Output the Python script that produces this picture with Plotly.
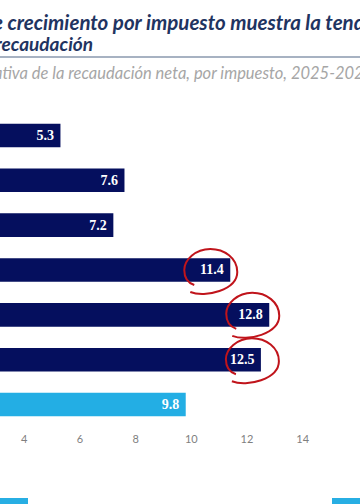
import plotly.graph_objects as go

# ---- data ----
categories = ["IVA", "ISR", "IEPS", "Importaciones", "Selectivos", "Otros", "Total"]
values = [5.3, 7.6, 7.2, 11.4, 12.8, 12.5, 9.8]
bar_colors = ["#050f5e", "#050f5e", "#050f5e", "#050f5e", "#050f5e", "#050f5e", "#23aee4"]
tick_vals = [4, 6, 8, 10, 12, 14]
circled = ["Importaciones", "Selectivos", "Otros"]

title_line1 = "de crecimiento por impuesto muestra la tendencia"
title_line2 = "recaudación"
subtitle = "relativa de la recaudación neta, por impuesto, 2025-2024"

# ---- layout geometry (pixels) ----
W, H = 360, 504
top, bottom = 113, 427
def py(p):
    return (bottom - p) / (bottom - top)
def px(p):
    return p / W

fig = go.Figure()
fig.add_trace(go.Bar(
    x=values, y=categories, orientation="h",
    marker=dict(color=bar_colors, line=dict(width=0)),
    text=[f"{v:.1f}\u2005" for v in values],
    textposition="inside", insidetextanchor="end", textangle=0,
    insidetextfont=dict(family="Liberation Serif", size=14, color="white", weight="bold"),
    hoverinfo="skip",
))

# hand-drawn style open loops around highlighted labels (pixel offsets relative to bar end)
circle_offsets = {"Importaciones": (-20, -2), "Selectivos": (-17, -1), "Otros": (-9, -1.5)}
shapes = []
for cat in circled:
    v = values[categories.index(cat)]
    dx, dy = circle_offsets[cat]
    pts = [(-20, -20), (-5, -26), (27, -18), (27, 0), (27, 14), (14, 23), (0, 23),
           (-15, 23), (-26, 12), (-26, 2), (-26, -6), (-22, -11), (-16, -13)]
    pts = [(x + dx, y + dy) for x, y in pts]
    path = "M {},{} ".format(*pts[0])
    for i in range(1, len(pts), 3):
        path += "C {},{} {},{} {},{} ".format(*pts[i], *pts[i + 1], *pts[i + 2])
    shapes.append(dict(type="path", xref="x", yref="y", xsizemode="pixel", ysizemode="pixel",
                       xanchor=v, yanchor=categories.index(cat), path=path,
                       line=dict(color="#c0141b", width=2), layer="above"))

# separator line under title
shapes.append(dict(type="line", xref="paper", yref="paper", x0=0, x1=1, y0=py(57), y1=py(57),
                   line=dict(color="#8a99ae", width=1.5)))
# slide footer decorations
shapes.append(dict(type="rect", xref="paper", yref="paper", x0=px(0), x1=px(28), y0=py(498), y1=py(506),
                   fillcolor="#27aee3", line=dict(width=0)))
shapes.append(dict(type="rect", xref="paper", yref="paper", x0=px(332), x1=px(362), y0=py(498), y1=py(506),
                   fillcolor="#27aee3", line=dict(width=0)))

annotations = [
    dict(text=title_line1, xref="paper", yref="paper", x=px(-20), y=py(22), xanchor="left", yanchor="middle",
         showarrow=False, font=dict(family="Lato", size=20.5, color="#1f3461", weight="bold", style="italic")),
    dict(text=title_line2, xref="paper", yref="paper", x=px(-7), y=py(43), xanchor="left", yanchor="middle",
         showarrow=False, font=dict(family="Lato", size=19, color="#1f3461", weight="bold", style="italic")),
    dict(text=subtitle, xref="paper", yref="paper", x=px(-25), y=py(73), xanchor="left", yanchor="middle",
         showarrow=False, font=dict(family="Lato", size=16.5, color="#a6a6a6", style="italic")),
]

fig.update_layout(
    width=W, height=H,
    margin=dict(l=0, r=0, t=top, b=H - bottom, pad=0),
    paper_bgcolor="white", plot_bgcolor="white",
    showlegend=False, bargap=0.475,
    xaxis=dict(range=[87.1 / 27.84, (W + 87.1) / 27.84], tickvals=tick_vals, showgrid=False,
               zeroline=False, showline=False, ticks="", ticklabelstandoff=4,
               tickfont=dict(family="Lato", size=11, color="#7f7f7f")),
    yaxis=dict(autorange="reversed", showticklabels=False, showgrid=False, zeroline=False, showline=False),
    shapes=shapes, annotations=annotations,
)

fig.write_html("out.html", config={"displayModeBar": False, "staticPlot": True},
               post_script="document.body.style.margin='0';document.body.style.overflow='hidden';")
